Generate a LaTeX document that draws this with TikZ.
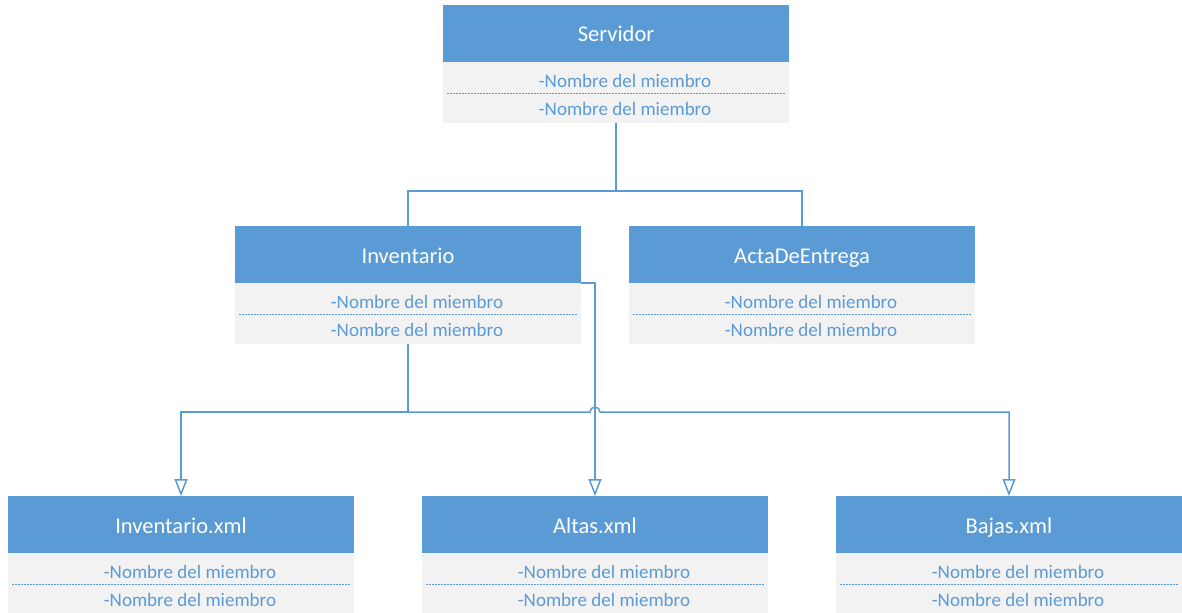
\documentclass[tikz,border=0pt]{standalone}
\usepackage{fontspec}
\setmainfont{Carlito}
\usetikzlibrary{arrows.meta,calc}
\definecolor{hdr}{HTML}{5B9BD5}
\definecolor{bodybg}{HTML}{F2F2F2}
\definecolor{ink}{HTML}{5B9BD5}

% One class: header with the title, grey body with two members and a dotted separator
% #1 name prefix, #2 left x, #3 top y, #4 title
\newcommand\classbox[4]{%
  \node[hdrbox, anchor=north west] (#1H) at (#2,#3) {#4};
  \node[bodybox, anchor=north] (#1B) at (#1H.south) {};
  \node[member] (#1Ma) at ($(#1B.north)+(9,19)$) {-Nombre del miembro};
  \node[member] (#1Mb) at ($(#1B.north)+(9,47)$) {-Nombre del miembro};
  \draw[sep] ($(#1B.north west)+(4,31)$) -- ($(#1B.north east)+(-4,31)$);
}

\begin{document}
\begin{tikzpicture}[x=1bp, y=-1bp,
  hdrbox/.style={fill=hdr, text=white, minimum width=346bp, minimum height=57bp,
    inner sep=0pt, outer sep=0pt, text height=21bp, text depth=4bp,
    font=\fontsize{22.6}{26}\selectfont},
  bodybox/.style={fill=bodybg, minimum width=346bp, minimum height=61bp,
    inner sep=0pt, outer sep=0pt},
  member/.style={text=ink, inner sep=0pt, text height=17bp, text depth=4bp,
    font=\fontsize{19.1}{22}\selectfont},
  sep/.style={draw=ink, line width=0.9bp, dash pattern=on 2bp off 1bp},
  conn/.style={draw=ink, line width=1.5bp},
  inh/.style={conn, -{Triangle[open, width=13bp, length=17bp, line width=1.5bp]}}
]
\useasboundingbox (0,0) rectangle (1182,613);

\classbox{srv}{443}{5}{Servidor}
\classbox{inv}{235}{226}{Inventario}
\classbox{acta}{629}{226}{ActaDeEntrega}
\classbox{ixml}{8}{496}{Inventario.xml}
\classbox{alt}{422}{496}{Altas.xml}
\classbox{baj}{836}{496}{Bajas.xml}

% Servidor to its two parts
\draw[conn] (srvB.south) -- ++(0,68) coordinate (j1);
\draw[conn] (j1) -| (invH.north);
\draw[conn] (j1) -| (actaH.north);

% Inventario to Altas.xml, leaving from the right side
\draw[inh] (invB.north east) -| (altH.north);

% Inventario to the xml files, hopping over the Altas line
\draw[conn] (invB.south) -- ++(0,68) coordinate (j2);
\draw[inh] (j2) -| (ixmlH.north);
\draw[inh] (j2) -- ($(j2 -| altH.north)+(-5,0)$)
  arc[start angle=180, end angle=360, radius=5] -| (bajH.north);
\end{tikzpicture}
\end{document}
